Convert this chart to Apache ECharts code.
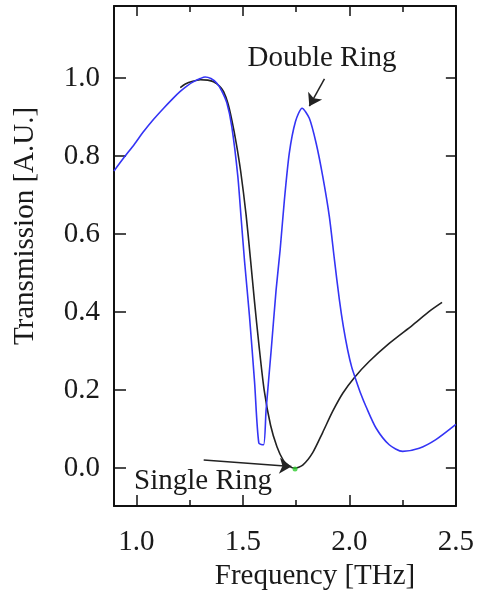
<!DOCTYPE html>
<html>
<head>
<meta charset="utf-8">
<script src="https://cdn.jsdelivr.net/npm/echarts@6/dist/echarts.min.js"></script>
<style>html,body{margin:0;padding:0;background:#fff;}#c{width:477px;height:594px;}</style>
</head>
<body>
<div id="c"></div>
<script>
// Double ring (blue) curve
const doubleFreq = [0.895,0.94,0.99,1.034,1.08,1.128,1.17,1.206,1.24,1.269,1.30,1.323,1.35,1.378,1.40,1.425,1.448,1.476,1.492,1.508,1.531,1.555,1.575,1.597,1.609,1.633,1.656,1.675,1.695,1.718,1.747,1.778,1.812,1.844,1.875,1.906,1.930,1.953,1.972,1.992,2.011,2.031,2.054,2.078,2.125,2.187,2.25,2.328,2.406,2.50];
const doubleT    = [0.762,0.795,0.830,0.863,0.894,0.923,0.947,0.966,0.981,0.991,0.999,1.003,0.999,0.987,0.968,0.936,0.876,0.750,0.640,0.530,0.390,0.220,0.064,0.060,0.149,0.303,0.457,0.560,0.688,0.808,0.889,0.923,0.897,0.833,0.748,0.645,0.534,0.432,0.362,0.303,0.259,0.226,0.190,0.158,0.103,0.060,0.043,0.051,0.073,0.112];
// Single ring (black) curve
const singleFreq = [1.206,1.23,1.265,1.30,1.335,1.362,1.39,1.409,1.43,1.448,1.469,1.49,1.515,1.535,1.555,1.575,1.60,1.63,1.66,1.69,1.715,1.742,1.781,1.828,1.875,1.922,1.969,2.023,2.094,2.187,2.297,2.375,2.435];
const singleT    = [0.976,0.985,0.992,0.996,0.995,0.991,0.980,0.966,0.935,0.893,0.833,0.760,0.650,0.540,0.425,0.318,0.200,0.110,0.055,0.020,0.006,0.000,0.008,0.040,0.092,0.146,0.192,0.232,0.274,0.320,0.367,0.402,0.425];
// Ticks
const xMajor = [1.0,1.5,2.0,2.5];
const xMinor = [1.25,1.75,2.25];
const yMajor = [0.0,0.2,0.4,0.6,0.8,1.0];
// Annotations
const doubleArrow = [[1.883,0.998],[1.812,0.928]];
const singleArrow = [[1.316,0.021],[1.728,0.004]];
const singleMin = [[1.745,-0.002]];

const FONT = '"Liberation Serif", "Times New Roman", serif';
const zip = (a,b)=>a.map((v,i)=>[v,b[i]]);
const X_MIN = 0.895, X_MAX = 2.5, Y_MIN = -0.097, Y_MAX = 1.185;
const lineC = '#111';

function xAx(pos, vals, len, showLine, showLabel){
  return {type:'value', position:pos, min:X_MIN, max:X_MAX,
    axisLine:{show:showLine, onZero:false, lineStyle:{color:lineC,width:2}},
    axisTick:{show:true, inside:true, length:len, customValues:vals, lineStyle:{color:lineC,width:1.5}},
    axisLabel:{show:showLabel, customValues:vals, margin:22, color:'#1a1a1a', fontFamily:FONT, fontSize:29, formatter:v=>v.toFixed(1)},
    splitLine:{show:false}};
}
const arrowML = (pts)=>({silent:true, symbol:['none','arrow'], symbolSize:12, label:{show:false},
  lineStyle:{color:'#222', width:1.5, type:'solid'}, itemStyle:{color:'#222'},
  data:[[{coord:pts[0], symbol:'none'},{coord:pts[1], symbol:'arrow', symbolSize:12}]]});

const chart = echarts.init(document.getElementById('c'));
chart.setOption({
  animation:false,
  backgroundColor:'#fff',
  grid:{left:114, right:20, top:6, bottom:88, containLabel:false},
  xAxis:[
    xAx('bottom', xMajor, 11, true, true),
    xAx('bottom', xMinor, 6, false, false),
    xAx('top', xMajor, 10, true, false),
    xAx('top', xMinor, 6, false, false)
  ],
  yAxis:[
    {type:'value', position:'left', min:Y_MIN, max:Y_MAX,
     axisLine:{show:true, onZero:false, lineStyle:{color:lineC,width:2}},
     axisTick:{show:true, inside:true, length:12, customValues:yMajor, lineStyle:{color:lineC,width:1.5}},
     axisLabel:{show:true, customValues:yMajor, margin:14, color:'#1a1a1a', fontFamily:FONT, fontSize:29, formatter:v=>v.toFixed(1)},
     splitLine:{show:false}},
    {type:'value', position:'right', min:Y_MIN, max:Y_MAX,
     axisLine:{show:true, onZero:false, lineStyle:{color:lineC,width:2}},
     axisTick:{show:true, inside:true, length:10, customValues:yMajor, lineStyle:{color:lineC,width:1.5}},
     axisLabel:{show:false}, splitLine:{show:false}}
  ],
  series:[
    {type:'line', name:'Double Ring', data:zip(doubleFreq,doubleT), showSymbol:false, smooth:0.25,
     lineStyle:{color:'#3434f5', width:1.6}, itemStyle:{color:'#3434f5'}, z:3,
     markLine:arrowML(doubleArrow)},
    {type:'line', name:'Single Ring', data:zip(singleFreq,singleT), showSymbol:false, smooth:0.25,
     lineStyle:{color:'#222', width:1.6}, itemStyle:{color:'#222'}, z:2,
     markLine:arrowML(singleArrow)},
    {type:'scatter', data:singleMin, symbolSize:5, itemStyle:{color:'#2ecc2e'}, z:4}
  ],
  graphic:[
    {type:'text', x:322, y:58, style:{text:'Double Ring', font:'29px '+FONT, fill:'#1a1a1a', textAlign:'center', textVerticalAlign:'middle'}},
    {type:'text', x:203, y:481, style:{text:'Single Ring', font:'29px '+FONT, fill:'#1a1a1a', textAlign:'center', textVerticalAlign:'middle'}},
    {type:'text', x:315, y:576, style:{text:'Frequency [THz]', font:'29px '+FONT, fill:'#1a1a1a', textAlign:'center', textVerticalAlign:'middle'}},
    {type:'text', x:25, y:226, rotation:Math.PI/2, style:{text:'Transmission [A.U.]', font:'29px '+FONT, fill:'#1a1a1a', textAlign:'center', textVerticalAlign:'middle'}}
  ]
});
</script>
</body>
</html>
